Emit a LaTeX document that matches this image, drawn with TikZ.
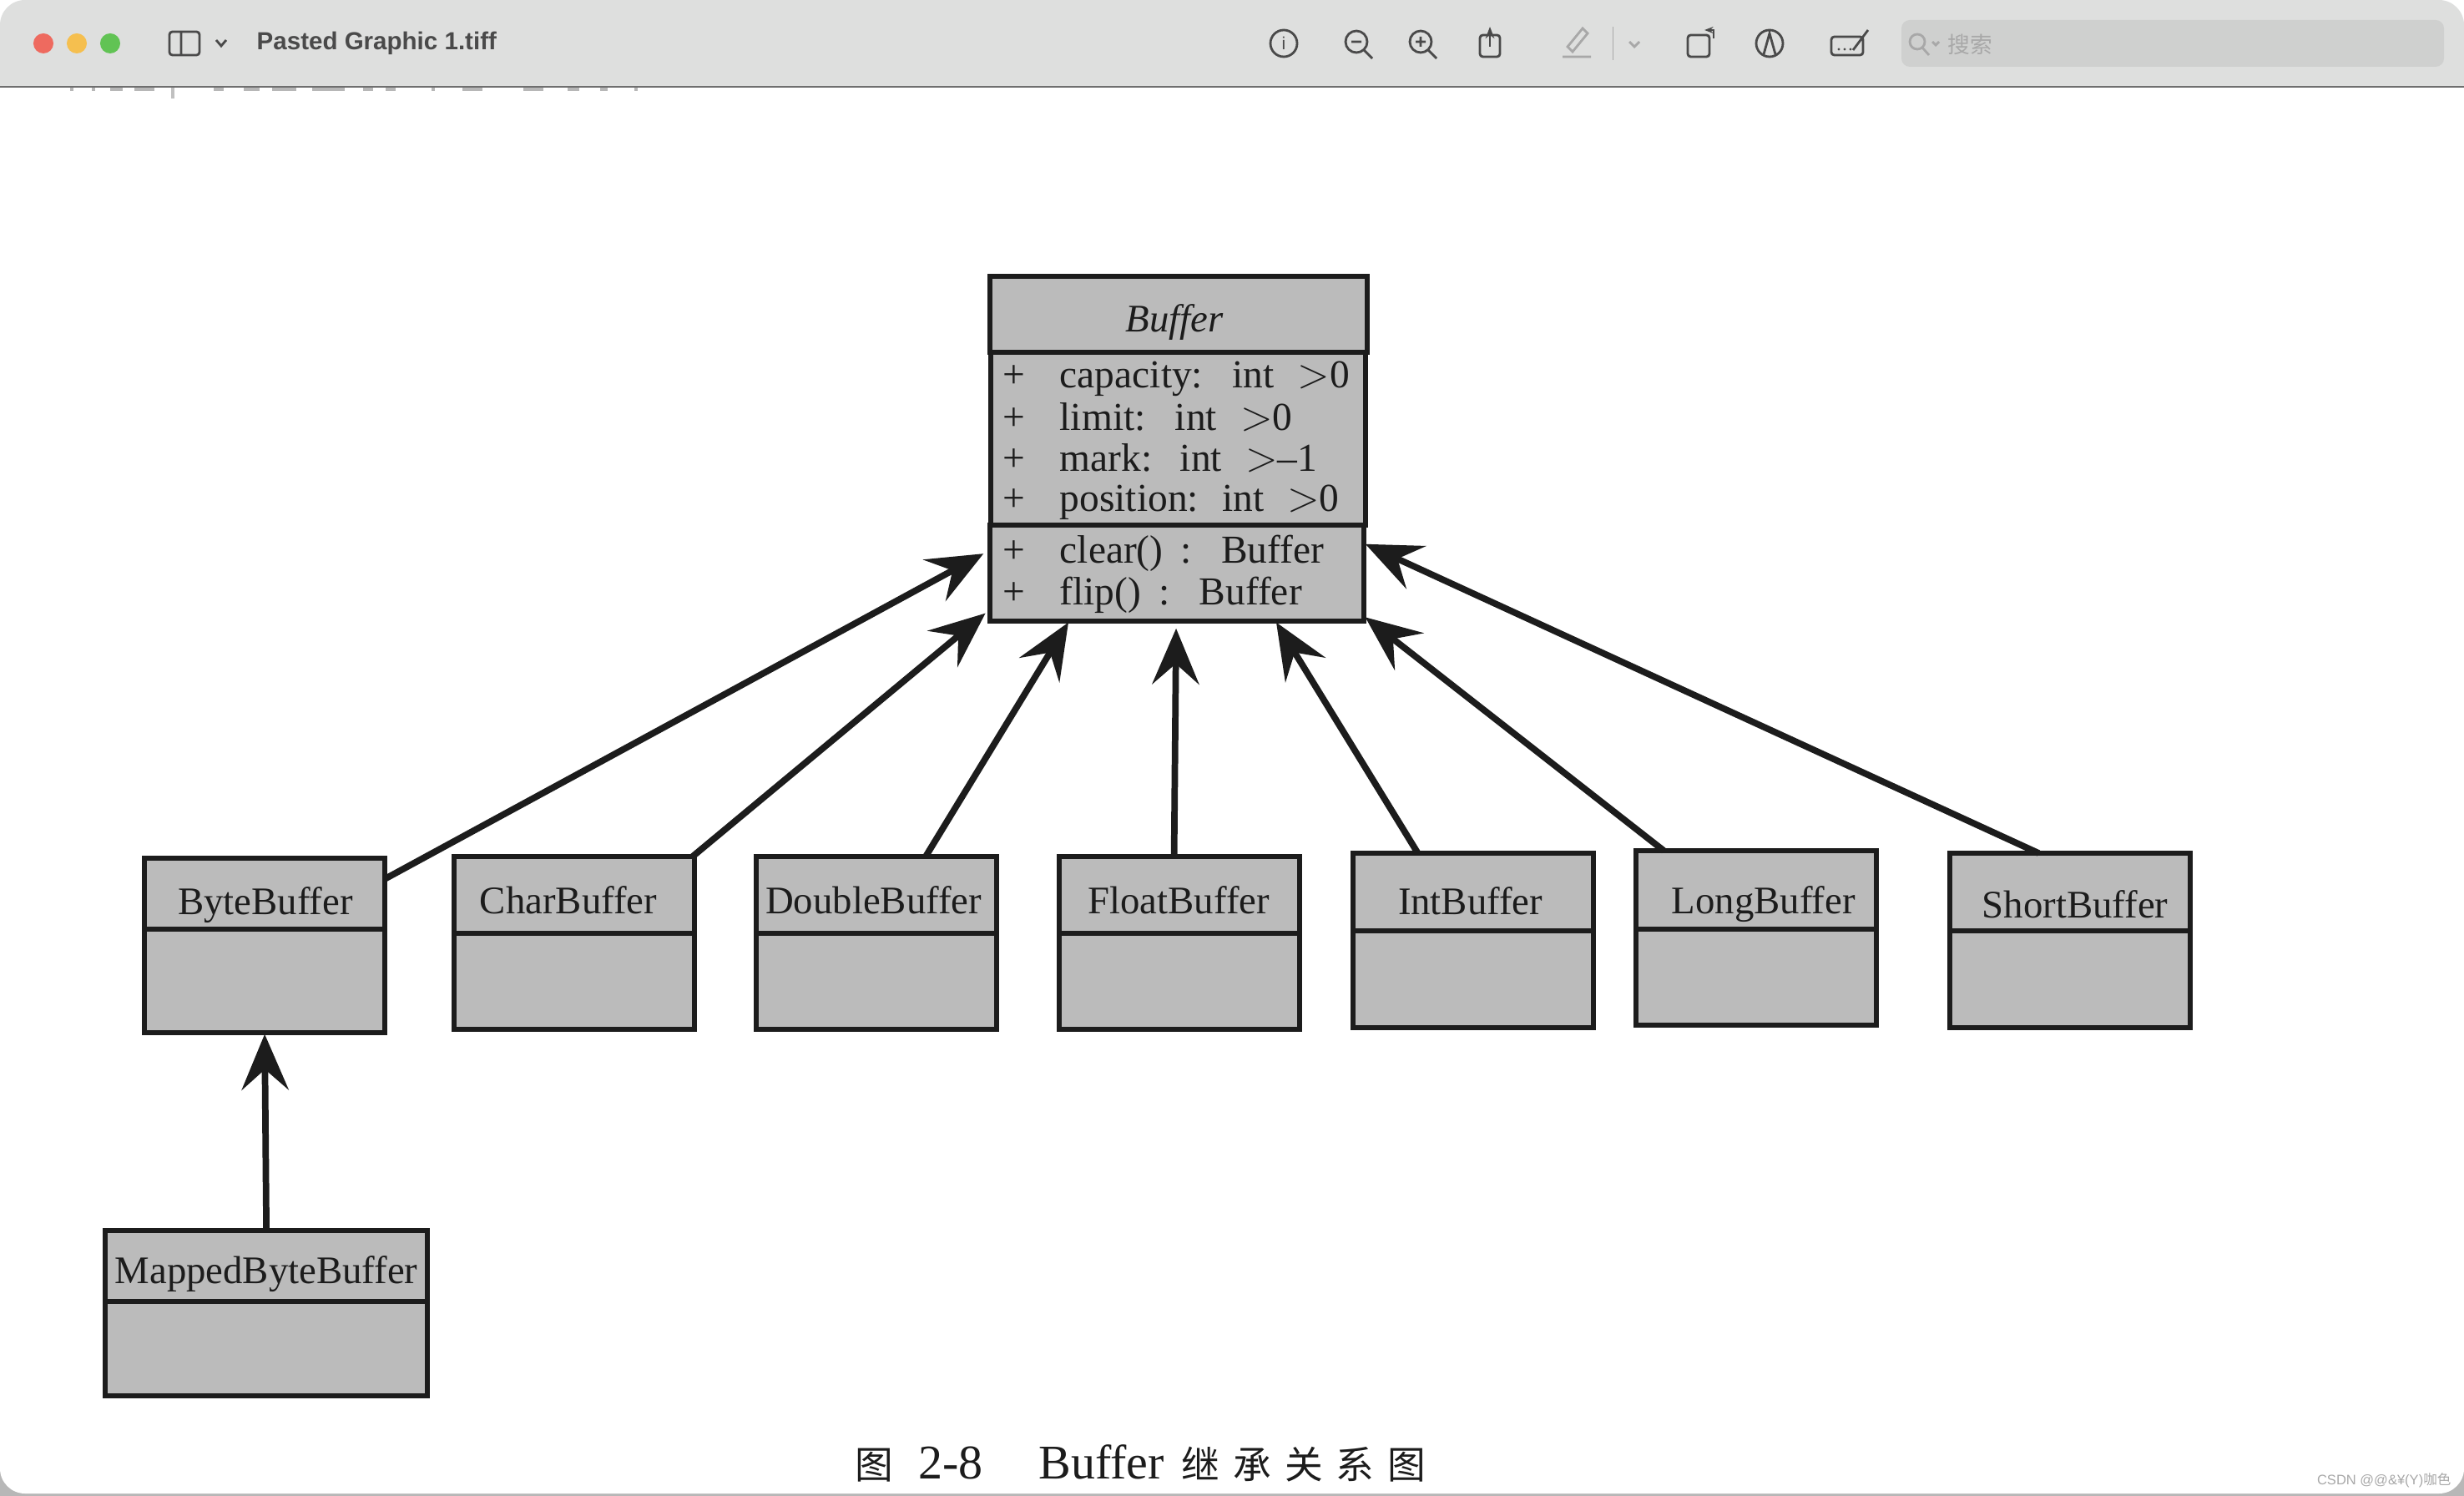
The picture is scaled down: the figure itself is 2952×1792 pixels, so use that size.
\documentclass[tikz,border=0pt]{standalone}
\usepackage{fontspec}
\setmainfont{Liberation Serif}
\newfontfamily\uisans{Liberation Sans}
\newfontfamily\cjk{Noto Sans CJK SC}
\usepackage{tikz}
\usetikzlibrary{arrows.meta,positioning,calc}
\definecolor{barfill}{HTML}{DEDFDE}
\definecolor{barline}{HTML}{6F6F6F}
\definecolor{searchfill}{HTML}{CFD0CF}
\definecolor{iconink}{HTML}{4A4A4A}
\definecolor{iconfaint}{HTML}{A8A8A8}
\definecolor{boxfill}{HTML}{BBBBBB}
\definecolor{boxink}{HTML}{1C1C1C}
\definecolor{closered}{HTML}{EE6A5F}
\definecolor{minyellow}{HTML}{F5BF4F}
\definecolor{zoomgreen}{HTML}{61C354}

\begin{document}
\begin{tikzpicture}[x=0.01cm,y=-0.01cm,
  font=\fontsize{13.3}{14.2}\selectfont,text=boxink,
  hollow/.style={draw=boxink,line width=1.8pt,fill=boxfill,inner sep=0pt,outer sep=0pt,anchor=north west},
  part/.style={hollow,text height=13pt,text depth=1pt},
  inh/.style={-{Stealth[length=19pt,width=16pt,inset=7pt]},boxink,line width=2.2pt,shorten >=0.5pt},
  icon/.style={iconink,line width=0.8pt},
  faint/.style={iconfaint,line width=0.8pt},
  dot/.style={circle,inner sep=0pt,minimum size=0.24cm},
  member/.style={anchor=base west,inner sep=0pt,font=\fontsize{13.5}{14.2}\selectfont}]
\useasboundingbox (0,0) rectangle (2952,1792);
\fill[white] (0,0) rectangle (2952,1792);
% window bar and edge
\fill[barline!50] (0,1700) rectangle (2952,1792);
\fill[white,rounded corners=0.3cm] (0,1500) rectangle (2952,1789);
\fill[barfill,rounded corners=0.3cm] (0,0) rectangle (2952,200);
\fill[white] (0,104) rectangle (2952,200);
\draw[barline,line width=0.6pt] (0,104) -- (2952,104);
\foreach \x/\w in {84/4,110/4,132/15,161/24,256/12,292/19,326/29,374/39,435/12,462/12,517/4,554/24,627/24,680/14,719/9,760/4}
  \fill[iconink!40] (\x,105) rectangle (\x+\w,109);
\fill[iconink!35] (205,105) rectangle (209,118);
\node[dot,fill=closered] (closedot) at (52,52) {};
\node[dot,fill=minyellow] (mindot) at (92,52) {};
\node[dot,fill=zoomgreen] (zoomdot) at (132,52) {};
\node[font=\uisans\bfseries\fontsize{8.4}{11}\selectfont,text=iconink,anchor=west,inner sep=0pt] (wintitle) at (307,52) {Pasted Graphic 1.tiff};
% toolbar icons
\draw[icon,rounded corners=1pt] (203,38) rectangle (239,66) (217,38) -- (217,66);
\draw[icon] (259,48) -- (265,55) -- (271,48);
\draw[icon] (1538,52) circle (16);
\node[font=\uisans\fontsize{6}{6}\selectfont,text=iconink] (infomark) at (1538,52) {i};
\draw[icon] (1625,50) circle (13) (1634,60) -- (1644,70) (1619,50) -- (1631,50);
\draw[icon] (1702,50) circle (13) (1711,60) -- (1721,70) (1696,50) -- (1708,50) (1702,44) -- (1702,56);
\draw[icon,rounded corners=1pt] (1773,42) rectangle (1797,68);
\draw[icon,-{Stealth[length=4pt]}] (1785,56) -- (1785,32);
\draw[faint] (1878,56) -- (1896,34) -- (1902,40) -- (1884,62) -- cycle (1872,68) -- (1906,68);
\draw[faint,line width=0.3pt] (1932,32) -- (1932,72);
\draw[faint] (1952,50) -- (1958,56) -- (1964,50);
\draw[icon,rounded corners=1pt] (2022,42) rectangle (2048,68);
\draw[icon,-{Stealth[length=3pt]}] (2053,46) -- (2053,36) -- (2042,36);
\draw[icon] (2120,52) circle (16) (2113,65) -- (2120,40) -- (2127,65);
\draw[icon,rounded corners=1pt] (2194,44) rectangle (2232,66) (2220,60) -- (2238,36);
\fill[iconink] (2203,59) circle (1.6) (2210,59) circle (1.6) (2217,59) circle (1.6);
\fill[searchfill,rounded corners=0.1cm] (2278,24) rectangle (2928,80);
\draw[faint] (2297,50) circle (9) (2303,57) -- (2311,66) (2315,50) -- (2319,54) -- (2323,50);
\node[font=\cjk\fontsize{7.6}{8}\selectfont,text=iconfaint,anchor=west,inner sep=0pt] (searchtext) at (2333,53) {搜索};
% top class
\node[part,minimum width=4.52cm,minimum height=0.91cm,font=\itshape\fontsize{13.3}{14.2}\selectfont] (Buffer) at (1186,331) {\hspace*{-3pt}Buffer};
\node[hollow,minimum width=4.49cm,minimum height=2.07cm] (BufferAttrs) at (1187,422) {};
\node[hollow,minimum width=4.48cm,minimum height=1.15cm] (BufferOps) at (1186,629) {};
\foreach \n/\y/\t in {capacity/465/{capacity:\hspace{10pt}int\hspace{8pt}$>$0},limit/516/{limit:\hspace{10pt}int\hspace{8pt}$>$0},mark/565/{mark:\hspace{9.5pt}int\hspace{8pt}$>$--1},position/613/{position:\hspace{8pt}int\hspace{8pt}$>$0},clear/675/{clear()\hspace{6pt}:\hspace{10pt}Buffer},flip/725/{flip()\hspace{6pt}:\hspace{10pt}Buffer}}
  \node[member] (\n row) at (1201,\y) {\makebox[0.68cm][l]{+}\t};
% subclasses
\foreach \n/\x/\t/\h/\b/\o/\r in {ByteBuffer/173/1028/85/124/0.5/-1,CharBuffer/544/1026/92/115/-4/-0.5,DoubleBuffer/906/1026/92/115/-2/-0.5,FloatBuffer/1269/1026/92/115/-0.5/-0.5,IntBuffer/1621/1022/93/116/-2/-1.6,LongBuffer/1960/1019/94/115/5/-2.1,ShortBuffer/2336/1022/93/116/3.5/-2.7}{
  \node[part,minimum width=2.88cm,minimum height=\h*0.01cm] (\n) at (\x,\t) {\hspace*{\o pt}\raisebox{\r pt}{\n}};
  \node[hollow,minimum width=2.88cm,minimum height=\b*0.01cm] (\n-body) at (\n.south west) {};}
\node[part,minimum width=3.86cm,minimum height=0.85cm] (MappedByteBuffer) at (126,1474) {MappedByteBuffer};
\node[hollow,minimum width=3.86cm,minimum height=1.13cm] (MappedByteBuffer-body) at (MappedByteBuffer.south west) {};
% inheritance
\draw[inh,shorten >=2.5pt] (ByteBuffer.7) -- (BufferOps.173);
\draw[inh,shorten >=2pt] (CharBuffer.18.6) -- (BufferOps.191);
\draw[inh] (DoubleBuffer.38) -- (BufferOps.204.9);
\draw[inh,shorten >=2.5pt] (FloatBuffer.98.6) -- (BufferOps.-91);
\draw[inh] (IntBuffer.145.2) -- (BufferOps.-26.2);
\draw[inh] (LongBuffer.157.6) -- (BufferOps.-13.4);
\draw[inh] (ShortBuffer.129.3) -- (BufferOps.9.3);
\draw[inh] (MappedByteBuffer.north) -- (ByteBuffer-body.south);
% caption
\node[font=\fontsize{16.5}{18}\selectfont,anchor=west,inner sep=0pt] (caption) at (1024,1753) {{\cjk\fontsize{13}{16}\selectfont 图}\hspace{8.5pt}2-8\hspace{19pt}Buffer\hspace{6pt}{\cjk\fontsize{13}{16}\selectfont 继\hspace{4.5pt}承\hspace{4.5pt}关\hspace{4.5pt}系\hspace{4.5pt}图}};
\node[font=\uisans\fontsize{4.7}{6}\selectfont,text=iconfaint,anchor=east,inner sep=0pt] (wmark) at (2937,1773) {CSDN @@\&¥(Y){\cjk 咖色}};
\end{tikzpicture}
\end{document}
